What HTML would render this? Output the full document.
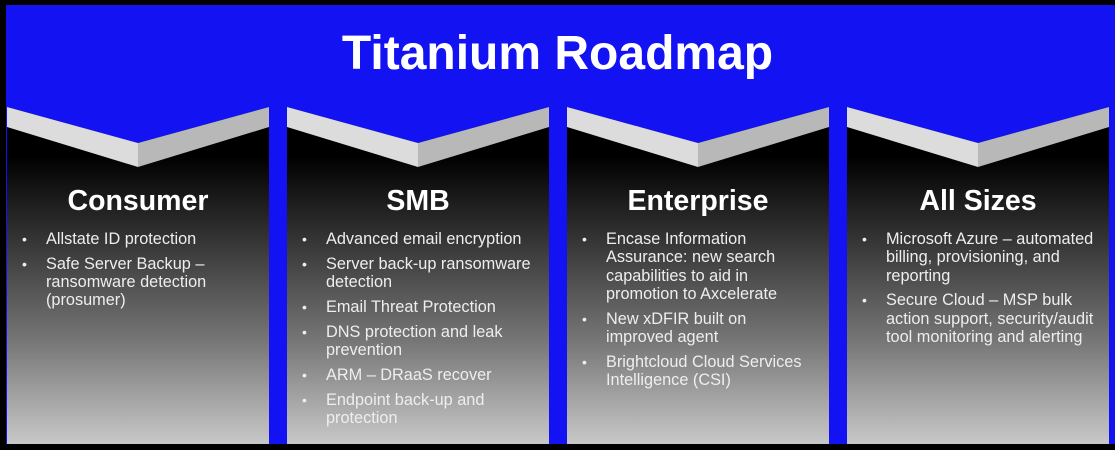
<!DOCTYPE html><html><head><style>
body{margin:0;width:1115px;height:450px;background:#000;overflow:hidden;font-family:"Liberation Sans",sans-serif}
#bg{position:absolute;left:6px;top:5px;width:1109px;height:439px;background:#1212f2}
h1{position:absolute;top:26px;left:0;width:1115px;text-align:center;margin:0;color:#fff;font-size:48px;font-weight:bold}
.col{position:absolute;top:105px;width:262px;height:339px;background:linear-gradient(#000 15%,#2a2a2a 35%,#777 70%,#c8c8c8 100%)}
.col svg{position:absolute;left:0;top:0}
.col h2{position:absolute;top:80px;left:0;width:262px;text-align:center;margin:0;color:#fff;font-size:28.5px;font-weight:bold}
.col ul{position:absolute;top:125px;left:0;margin:0;padding:0 0 0 39px;list-style:none;color:#eee;font-size:16.3px;line-height:18.3px;width:211px}
.col li{position:relative;margin-bottom:6.5px}
.col li:before{content:"•";position:absolute;left:-24px;font-size:14px}
</style></head><body>
<div id="bg"></div>
<h1>Titanium Roadmap</h1>
<div class="col" style="left:7px">
<svg width="262" height="70"><polygon points="0,0 131,0 131,38 0,2" fill="#1212f2"/><polygon points="131,0 262,0 262,2 131,38" fill="#1212f2"/><polygon points="0,2 131,38 131,62 0,22" fill="#dcdcdc"/><polygon points="131,38 262,2 262,22 131,62" fill="#b8b8b8"/></svg>
<h2>Consumer</h2><ul><li>Allstate ID protection</li><li>Safe Server Backup – ransomware detection (prosumer)</li></ul></div>
<div class="col" style="left:287px">
<svg width="262" height="70"><polygon points="0,0 131,0 131,38 0,2" fill="#1212f2"/><polygon points="131,0 262,0 262,2 131,38" fill="#1212f2"/><polygon points="0,2 131,38 131,62 0,22" fill="#dcdcdc"/><polygon points="131,38 262,2 262,22 131,62" fill="#b8b8b8"/></svg>
<h2>SMB</h2><ul><li>Advanced email encryption</li><li>Server back-up ransomware detection</li><li>Email Threat Protection</li><li>DNS protection and leak prevention</li><li>ARM – DRaaS recover</li><li>Endpoint back-up and protection</li></ul></div>
<div class="col" style="left:567px">
<svg width="262" height="70"><polygon points="0,0 131,0 131,38 0,2" fill="#1212f2"/><polygon points="131,0 262,0 262,2 131,38" fill="#1212f2"/><polygon points="0,2 131,38 131,62 0,22" fill="#dcdcdc"/><polygon points="131,38 262,2 262,22 131,62" fill="#b8b8b8"/></svg>
<h2>Enterprise</h2><ul><li>Encase Information Assurance: new search capabilities to aid in promotion to Axcelerate</li><li>New xDFIR built on improved agent</li><li>Brightcloud Cloud Services Intelligence (CSI)</li></ul></div>
<div class="col" style="left:847px">
<svg width="262" height="70"><polygon points="0,0 131,0 131,38 0,2" fill="#1212f2"/><polygon points="131,0 262,0 262,2 131,38" fill="#1212f2"/><polygon points="0,2 131,38 131,62 0,22" fill="#dcdcdc"/><polygon points="131,38 262,2 262,22 131,62" fill="#b8b8b8"/></svg>
<h2>All Sizes</h2><ul><li>Microsoft Azure – automated billing, provisioning, and reporting</li><li>Secure Cloud – MSP bulk action support, security/audit tool monitoring and alerting</li></ul></div>
</body></html>
